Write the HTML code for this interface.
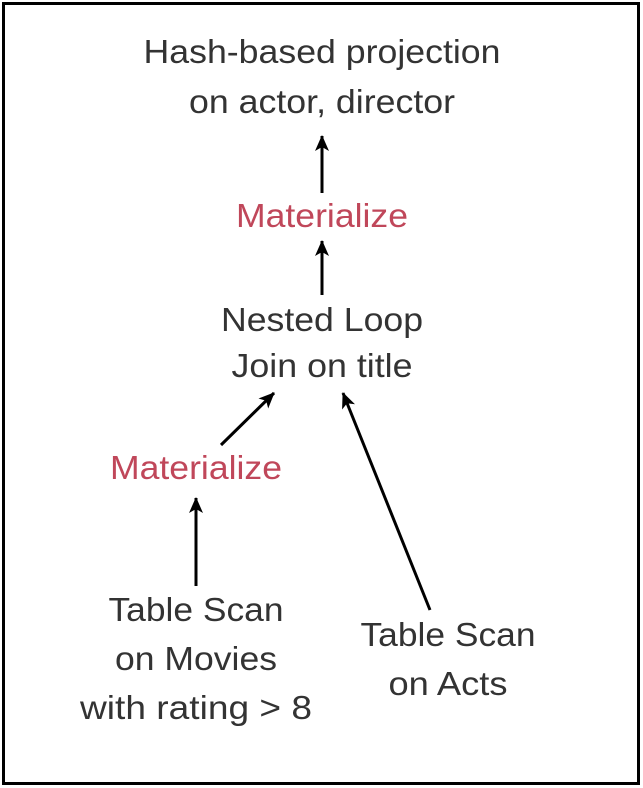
<!DOCTYPE html>
<html><head><meta charset="utf-8"><style>
html,body{margin:0;padding:0;background:#fff;}
svg{display:block;}
text{font-family:"Liberation Sans",Arial,sans-serif;font-size:33px;fill:#333;}
.r{fill:#c0475a;}
</style></head><body>
<svg width="643" height="788" viewBox="0 0 643 788" xmlns="http://www.w3.org/2000/svg">
<defs>
<marker id="a" markerWidth="16" markerHeight="14" refX="15" refY="7" orient="auto" markerUnits="userSpaceOnUse" viewBox="0 0 16 14">
<path d="M0,0 L16,7 L0,14 L4,7 Z" fill="#000"/>
</marker>
</defs>
<rect x="3.5" y="3.5" width="635" height="780" fill="none" stroke="#000" stroke-width="3"/>
<text x="322" y="63" text-anchor="middle" textLength="357" lengthAdjust="spacingAndGlyphs">Hash-based projection</text>
<text x="322" y="113" text-anchor="middle" textLength="266" lengthAdjust="spacingAndGlyphs">on actor, director</text>
<text class="r" x="322" y="227" text-anchor="middle" textLength="172" lengthAdjust="spacingAndGlyphs">Materialize</text>
<text x="322" y="331" text-anchor="middle" textLength="202" lengthAdjust="spacingAndGlyphs">Nested Loop</text>
<text x="322" y="377" text-anchor="middle" textLength="181" lengthAdjust="spacingAndGlyphs">Join on title</text>
<text class="r" x="196" y="479" text-anchor="middle" textLength="172" lengthAdjust="spacingAndGlyphs">Materialize</text>
<text x="196" y="621" text-anchor="middle" textLength="175" lengthAdjust="spacingAndGlyphs">Table Scan</text>
<text x="196" y="670" text-anchor="middle" textLength="162" lengthAdjust="spacingAndGlyphs">on Movies</text>
<text x="196" y="719" text-anchor="middle" textLength="232" lengthAdjust="spacingAndGlyphs">with rating &gt; 8</text>
<text x="448" y="646" text-anchor="middle" textLength="175" lengthAdjust="spacingAndGlyphs">Table Scan</text>
<text x="448" y="695" text-anchor="middle" textLength="119" lengthAdjust="spacingAndGlyphs">on Acts</text>
<g stroke="#000" stroke-width="3" fill="none">
<line x1="322" y1="193" x2="322" y2="136" marker-end="url(#a)"/>
<line x1="322" y1="295" x2="322" y2="241" marker-end="url(#a)"/>
<line x1="221" y1="445" x2="274" y2="393" marker-end="url(#a)"/>
<line x1="196" y1="586" x2="196" y2="498" marker-end="url(#a)"/>
<line x1="430" y1="610" x2="343" y2="393" marker-end="url(#a)"/>
</g>
</svg>
</body></html>
